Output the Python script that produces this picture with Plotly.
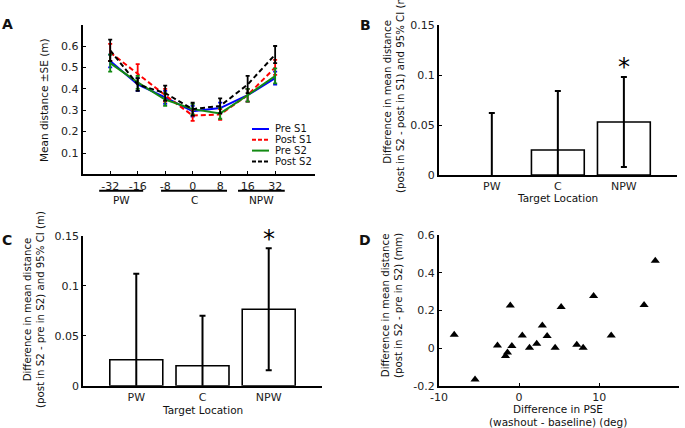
import plotly.graph_objects as go

# ---------------- data ----------------
# Panel A
target_labels = ["-32", "-16", "-8", "0", "8", "16", "32"]
target_pos = [1, 2, 3, 4, 5, 6, 7]
pre_s1 = [0.53, 0.42, 0.36, 0.295, 0.31, 0.37, 0.45]
pre_s1_se = [0.03, 0.03, 0.03, 0.025, 0.025, 0.03, 0.03]
post_s1 = [0.57, 0.47, 0.37, 0.275, 0.28, 0.37, 0.50]
post_s1_se = [0.04, 0.045, 0.03, 0.025, 0.025, 0.03, 0.035]
pre_s2 = [0.52, 0.43, 0.35, 0.305, 0.285, 0.37, 0.46]
pre_s2_se = [0.04, 0.03, 0.03, 0.025, 0.025, 0.03, 0.035]
post_s2 = [0.58, 0.42, 0.38, 0.305, 0.32, 0.42, 0.56]
post_s2_se = [0.05, 0.03, 0.035, 0.03, 0.035, 0.04, 0.04]
groups = ["PW", "C", "NPW"]

# Panel B
loc_labels = ["PW", "C", "NPW"]
loc_pos = [1, 2, 3]
b_vals = [0.0, 0.025, 0.053]
b_ci = [0.062, 0.059, 0.045]

# Panel C
c_vals = [0.026, 0.020, 0.0765]
c_ci = [0.086, 0.050, 0.061]

# Panel D
d_x = [-8.1, -5.5, -2.7, -1.7, -1.45, -1.1, -0.9, 0.4, 1.3, 2.2, 2.9, 3.5,
       4.5, 5.25, 7.2, 8.0, 9.3, 11.5, 15.6, 17.0]
d_y = [0.072, -0.165, 0.014, -0.041, -0.023, 0.226, 0.012, 0.068, 0.003, 0.024,
       0.121, 0.065, 0.003, 0.219, 0.019, 0.003, 0.277, 0.067, 0.229, 0.464]
d_xticks = [-10, 0, 10, 20]
d_xticktext = ["-10", "0", "10", "-20"]

FONT = "DejaVu Sans"
W, H = 685, 428

fig = go.Figure()

series = [
    ("Pre S1", pre_s1, pre_s1_se, "#0000ff", "solid"),
    ("Post S1", post_s1, post_s1_se, "#ff0000", "5px,3px"),
    ("Pre S2", pre_s2, pre_s2_se, "#138a13", "solid"),
    ("Post S2", post_s2, post_s2_se, "#000000", "5px,3px"),
]
for name, vals, se, col, dash in series:
    fig.add_trace(go.Scatter(
        x=target_pos, y=vals, name=name, mode="lines",
        line=dict(color=col, width=2, dash=dash),
        error_y=dict(type="data", array=se, color=col, thickness=1.8, width=2),
        xaxis="x", yaxis="y", showlegend=False))

def bar_style(vals):
    return dict(color="white",
                line=dict(color="black", width=[0 if v == 0 else 1.6 for v in vals]))

fig.add_trace(go.Bar(x=loc_pos, y=b_vals, width=0.8, marker=bar_style(b_vals), showlegend=False,
                     error_y=dict(type="data", array=b_ci, color="black", thickness=2, width=3),
                     xaxis="x2", yaxis="y2"))
fig.add_trace(go.Bar(x=loc_pos, y=c_vals, width=0.8, marker=bar_style(c_vals), showlegend=False,
                     error_y=dict(type="data", array=c_ci, color="black", thickness=2, width=3),
                     xaxis="x3", yaxis="y3"))
fig.add_trace(go.Scatter(x=d_x, y=d_y, mode="markers",
                         marker=dict(symbol="triangle-up", size=8, color="black"),
                         xaxis="x4", yaxis="y4", showlegend=False))

axis_common = dict(showline=True, linecolor="black", linewidth=2, showgrid=False,
                   zeroline=False, ticks="inside", ticklen=3, tickcolor="black",
                   automargin=False,
                   tickfont=dict(family=FONT, size=11, color="#222"))
noticks = {**axis_common, "ticks": ""}

def px_x(p):
    return p / W

def px_y(p):
    return 1 - p / H

layout = dict(
    width=W, height=H, margin=dict(l=0, r=0, t=0, b=0, autoexpand=False),
    paper_bgcolor="white", plot_bgcolor="white",
    font=dict(family=FONT, size=11, color="#222"),
    showlegend=False,
    xaxis=dict(domain=[px_x(82.7), px_x(315)], range=[0, 8.45], tickvals=target_pos,
               ticktext=target_labels, anchor="y", **axis_common),
    yaxis=dict(domain=[px_y(174.4), px_y(24.6)], range=[0, 0.7],
               tickvals=[0.1, 0.2, 0.3, 0.4, 0.5, 0.6], anchor="x", **axis_common),
    xaxis2=dict(domain=[px_x(439), px_x(676.7)], range=[0.2, 3.8], tickvals=loc_pos,
                ticktext=loc_labels, anchor="y2", **noticks),
    yaxis2=dict(domain=[px_y(175), px_y(25)], range=[0, 0.15],
                tickvals=[0, 0.05, 0.1, 0.15], ticktext=["0", "0.05", "0.1", "0.15"],
                anchor="x2", **axis_common),
    xaxis3=dict(domain=[px_x(83.3), px_x(321.7)], range=[0.2, 3.8], tickvals=loc_pos,
                ticktext=loc_labels, anchor="y3", **noticks),
    yaxis3=dict(domain=[px_y(385.7), px_y(235.7)], range=[0, 0.15],
                tickvals=[0, 0.05, 0.1, 0.15], ticktext=["0", "0.05", "0.1", "0.15"],
                anchor="x3", **axis_common),
    xaxis4=dict(domain=[px_x(439), px_x(679.3)], range=[-10, 20], tickvals=d_xticks,
                ticktext=d_xticktext, anchor="y4", **axis_common),
    yaxis4=dict(domain=[px_y(386), px_y(235)], range=[-0.2, 0.6],
                tickvals=[-0.2, 0, 0.2, 0.4, 0.6], ticktext=["-0.2", "0", "0.2", "0.4", "0.6"],
                anchor="x4", **axis_common),
)
fig.update_layout(**layout)

ann = []
shapes = []
def txt(x, y, text, size=10, angle=0, bold=False, xanchor="center"):
    ann.append(dict(x=x, y=y, xref="paper", yref="paper", text=("<b>%s</b>" % text) if bold else text,
                    showarrow=False, textangle=angle, xanchor=xanchor, yanchor="middle",
                    font=dict(family=FONT, size=size, color="#111")))

# panel letters
txt(px_x(7), px_y(24), "A", size=14, bold=True)
txt(px_x(365), px_y(25), "B", size=14, bold=True)
txt(px_x(7), px_y(240), "C", size=14, bold=True)
txt(px_x(365), px_y(240), "D", size=14, bold=True)

# axis titles
txt(px_x(44), px_y(100), "Mean distance ±SE (m)", size=10.5, angle=-90)
txt(px_x(394), px_y(92), "Difference in mean distance<br>(post in S2 - post in S1) and 95% CI (m)", size=10.2, angle=-90)
txt(px_x(557), px_y(198), "Target Location", size=10.5)
txt(px_x(34), px_y(310), "Difference in mean distance<br>(post in S2 - pre in S2) and 95% CI (m)", size=10.2, angle=-90)
txt(px_x(202), px_y(410), "Target Location", size=10.5)
txt(px_x(392), px_y(305), "Difference in mean distance<br>(post in S2 - pre in S2) (mm)", size=10.2, angle=-90)
txt(px_x(558), px_y(408.5), "Difference in PSE", size=10.5)
txt(px_x(558), px_y(421.5), "(washout - baseline) (deg)", size=10.5)

# legend for panel A (drawn manually to match compact spacing)
for i, (name, vals, se, col, dash) in enumerate(series):
    yy = px_y(129 + i * 10.8)
    shapes.append(dict(type="line", xref="paper", yref="paper", x0=px_x(252), x1=px_x(269),
                       y0=yy, y1=yy,
                       line=dict(color=col, width=2, dash="4px,2px" if dash != "solid" else "solid")))
    txt(px_x(273), yy, name, size=10, xanchor="left")

# significance stars
ann.append(dict(x=3, y=0.108, xref="x2", yref="y2", text="*", showarrow=False,
                font=dict(family=FONT, size=24, color="black"), yanchor="middle"))
ann.append(dict(x=3, y=0.147, xref="x3", yref="y3", text="*", showarrow=False,
                font=dict(family=FONT, size=24, color="black"), yanchor="middle"))

# group labels for panel A
group_spans = [(0.6, 2.2), (2.85, 5.25), (5.65, 7.35)]
group_centers = [1.4, 4.05, 6.5]
for g, (a, b), c in zip(groups, group_spans, group_centers):
    shapes.append(dict(type="line", xref="x", yref="paper", x0=a, x1=b,
                       y0=px_y(190.7), y1=px_y(190.7), line=dict(color="black", width=2)))
    ann.append(dict(x=c, y=px_y(200), xref="x", yref="paper", text=g, showarrow=False,
                    xanchor="center", yanchor="middle",
                    font=dict(family=FONT, size=10.5, color="#111")))

fig.update_layout(annotations=ann, shapes=shapes)
fig.write_html("out.html", config={"displayModeBar": False},
               post_script="document.body.style.margin='0';document.body.style.padding='0';")
